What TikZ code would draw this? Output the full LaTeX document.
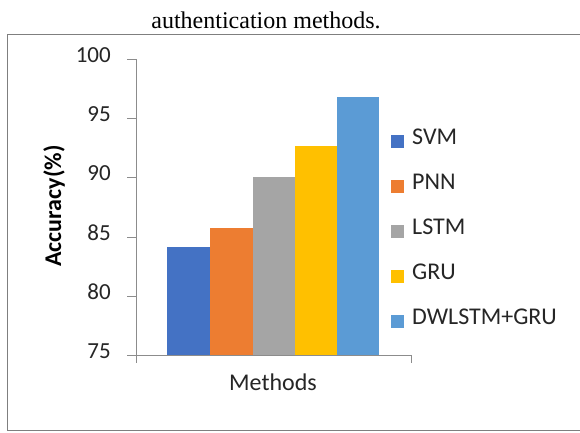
\documentclass[tikz,border=0pt]{standalone}
\usepackage{fontspec}
\setmainfont{Liberation Serif}
\newfontfamily\chartfont{Carlito}
\definecolor{cSVM}{HTML}{4472C4}
\definecolor{cPNN}{HTML}{ED7D31}
\definecolor{cLSTM}{HTML}{A5A5A5}
\definecolor{cGRU}{HTML}{FFC000}
\definecolor{cDW}{HTML}{5B9BD5}
\definecolor{axisgray}{HTML}{8C8C8C}
\definecolor{framegray}{HTML}{7F7F7F}
\definecolor{labelgray}{HTML}{262626}
\begin{document}
\begin{tikzpicture}[x=1pt,y=-1pt,
  ticklabel/.style={font=\chartfont\fontsize{23}{23}\selectfont, text=labelgray,
    inner sep=0pt, text height=0.632em, text depth=0pt, anchor=east},
  legendtext/.style={font=\chartfont\fontsize{24}{24}\selectfont, text=labelgray,
    inner sep=0pt, text height=0.644em, text depth=0pt, anchor=west},
  legendkey/.style={minimum size=13pt, inner sep=0pt, draw=none},
  axisline/.style={draw=axisgray, line width=1pt},
  bar/.style={draw=none}]
\useasboundingbox (0,0) rectangle (580,432);
\fill[white] (0,0) rectangle (580,432);
% caption line
\node[font=\fontsize{24}{24}\selectfont, inner sep=0pt, anchor=base] (caption) at (266,28) {authentication methods.};
% chart frame (open on the right)
\draw[framegray, line width=1.3pt] (590,34.3) -- (7.3,34.3) -- (7.3,430.5) -- (590,430.5);
% value axis with ticks and labels
\foreach \v/\t in {75/75,80/80,85/85,90/90,95/95,100/100}{
  \draw[axisline] (127,{355.7-(\v-75)*11.86}) -- (136,{355.7-(\v-75)*11.86});
  \node[ticklabel] (tick\t) at (111,{355.7-(\v-75)*11.86}) {\t};
}
% bars
\foreach \xl/\xr/\v/\c in {167.3/210/84.2/cSVM, 210/252.7/85.8/cPNN, 252.7/295/90.1/cLSTM, 295/337.3/92.7/cGRU, 337.3/379.3/96.8/cDW}{
  \fill[\c] (\xl,355.7) rectangle (\xr,{355.7-(\v-75)*11.86});
}
\draw[axisline] (136,59.3) -- (136,363);
\draw[axisline] (136,355.7) -- (411.7,355.7) -- (411.7,363);
% axis titles
\node[font=\chartfont\bfseries\fontsize{24}{24}\selectfont, text=black, rotate=90, inner sep=0pt] (ytitle) at (54,206) {Accuracy(\%)};
\node[font=\chartfont\fontsize{24}{24}\selectfont, text=labelgray, inner sep=0pt, text height=0.644em, text depth=0pt] (xtitle) at (273,387) {Methods};
% legend
\foreach \n/\lab/\c/\y in {a/SVM/cSVM/141.7, b/PNN/cPNN/186.7, c/LSTM/cLSTM/231.7, d/GRU/cGRU/276.5, e/DWLSTM+GRU/cDW/321.3}{
  \node[legendkey, fill=\c] (key\n) at (397.5,\y) {};
  \node[legendtext] (leg\n) at (412,\y) {\lab};
}
\end{tikzpicture}
\end{document}
